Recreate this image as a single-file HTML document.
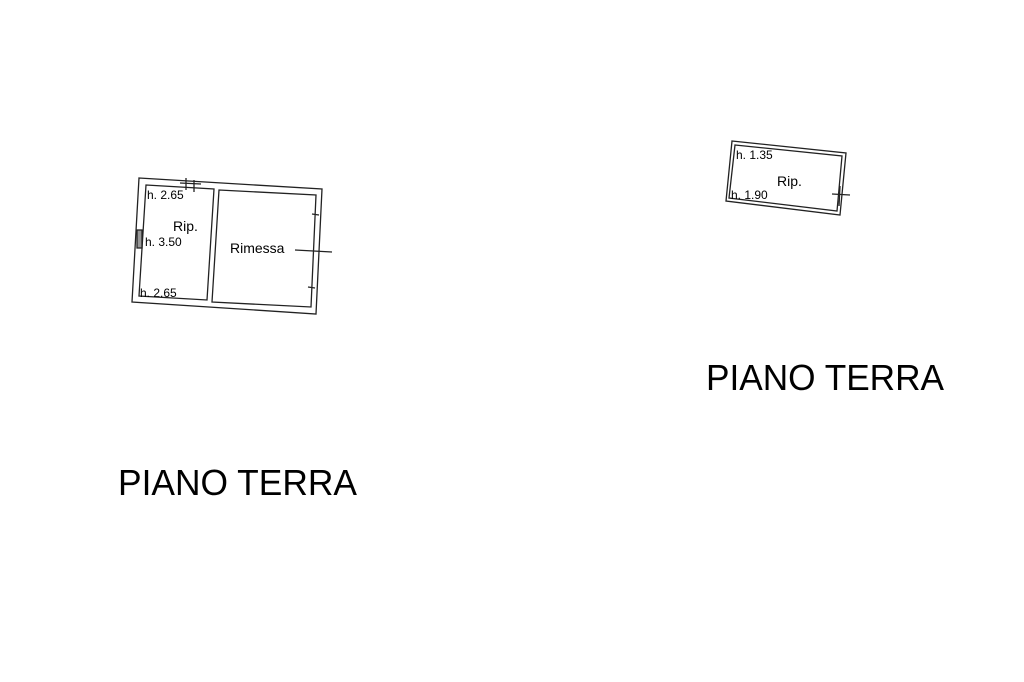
<!DOCTYPE html>
<html><head><meta charset="utf-8"><style>
html,body{margin:0;padding:0;background:#fff;}
svg{display:block;}
text{font-family:"Liberation Sans",Arial,sans-serif;fill:#000;}
</style></head><body>
<svg width="1024" height="682" viewBox="0 0 1024 682" xmlns="http://www.w3.org/2000/svg">
<g fill="none" stroke="#222" stroke-width="1.3">
  <!-- left building outer -->
  <polygon points="139,178 322,189 316,314 132,302"/>
  <!-- left room -->
  <polygon points="146,185 214,189 207,300 139,296"/>
  <!-- right room -->
  <polygon points="219,190 316,195 311,307 212,302"/>
  <!-- door ticks top -->
  <line x1="186" y1="178" x2="186" y2="190"/>
  <line x1="194" y1="180" x2="194" y2="192"/>
  <line x1="180" y1="183" x2="201" y2="184"/>
  <!-- hatched window left -->
  <rect x="137" y="230" width="5" height="18" fill="#999" stroke="#222"/>
  <!-- right wall openings -->
  <line x1="312" y1="214" x2="319" y2="215"/>
  <line x1="308" y1="287" x2="315" y2="288"/>
  <!-- leader -->
  <line x1="295" y1="250" x2="332" y2="252"/>
  <!-- right building -->
  <polygon points="732,141 846,153 840,215 726,201"/>
  <polygon points="735,145 842,156 837,211 729,198"/>
  <line x1="832" y1="194" x2="850" y2="195"/>
  <line x1="840" y1="186" x2="839" y2="206"/>
</g>
<g font-size="12">
  <text x="147" y="199">h. 2.65</text>
  <text x="173" y="231" font-size="14">Rip.</text>
  <text x="145" y="246">h. 3.50</text>
  <text x="140" y="297">h. 2.65</text>
  <text x="230" y="253" font-size="14">Rimessa</text>
  <text x="736" y="159">h. 1.35</text>
  <text x="777" y="186" font-size="14">Rip.</text>
  <text x="731" y="199">h. 1.90</text>
</g>
<text x="118" y="495" font-size="36" textLength="239" lengthAdjust="spacingAndGlyphs">PIANO TERRA</text>
<text x="706" y="390" font-size="36" textLength="238" lengthAdjust="spacingAndGlyphs">PIANO TERRA</text>
</svg>
</body></html>
